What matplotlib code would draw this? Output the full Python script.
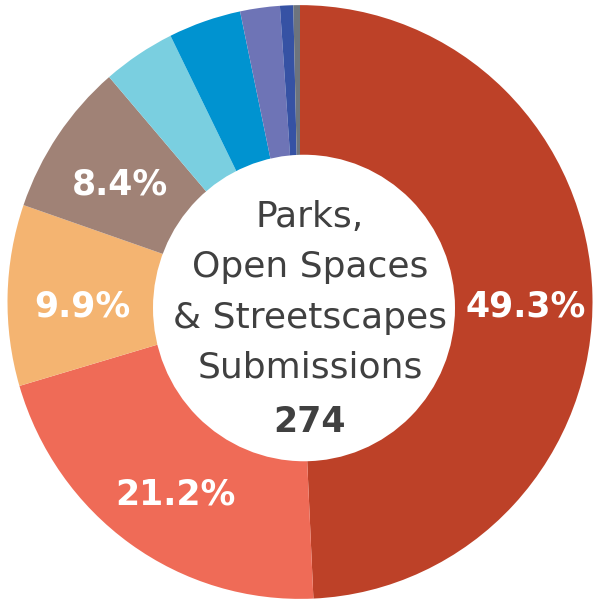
import matplotlib
matplotlib.use("Agg")
import matplotlib.pyplot as plt
from matplotlib.patches import Circle
import numpy as np

categories = ["A", "B", "C", "D", "E", "F", "G", "H", "I"]
counts = [135, 58, 27, 23, 11, 11, 6, 2, 1]
pct_labels = ["49.3%", "21.2%", "9.9%", "8.4%", "", "", "", "", ""]
colors = ["#BD4128", "#EF6B57", "#F4B471", "#A08276", "#7ACFE0",
          "#0093D0", "#6E74B6", "#3652A4", "#6D747D"]
center_lines = ["Parks,", "Open Spaces", "& Streetscapes", "Submissions"]
total_label = "274"

W, H = 593, 600
S = 1.015  # slight vertical stretch seen in the original


def py(p):
    """pixel row from top -> data y"""
    return (H - p) / S


fig = plt.figure(figsize=(W / 100, H / 100), dpi=100)
ax = fig.add_axes([0, 0, 1, 1])
cx, cy, R = 300, py(302), 292.5
ax.pie(counts, colors=colors, startangle=90, counterclock=False,
       center=(cx, cy), radius=R, wedgeprops=dict(linewidth=0))
hx, hy, hr = 304, py(308), 151
ax.add_patch(Circle((hx, hy), hr, facecolor="white", edgecolor="none", zorder=3))
ax.set_xlim(0, W)
ax.set_ylim(0, H / S)
ax.set_aspect("auto")
ax.axis("off")

total = sum(counts)
cum = 0
for c, lab in zip(counts, pct_labels):
    mid = (cum + c / 2) / total * 360
    cum += c
    if not lab:
        continue
    ang = np.deg2rad(90 - mid)
    r = 222
    ax.text(hx + r * np.cos(ang), hy + r * np.sin(ang) - 13, lab, color="white",
            fontsize=25, fontweight="bold", ha="center", va="baseline",
            family="DejaVu Sans", zorder=4)

tx = 310
baselines = [227, 277, 328, 377]
for b, line in zip(baselines, center_lines):
    ax.text(tx, py(b), line, color="#404040", fontsize=26,
            ha="center", va="baseline", family="DejaVu Sans", zorder=4)
ax.text(tx, py(432), total_label, color="#404040", fontsize=25,
        fontweight="bold", ha="center", va="baseline", family="DejaVu Sans",
        zorder=4)

fig.savefig("out.png", dpi=100)
